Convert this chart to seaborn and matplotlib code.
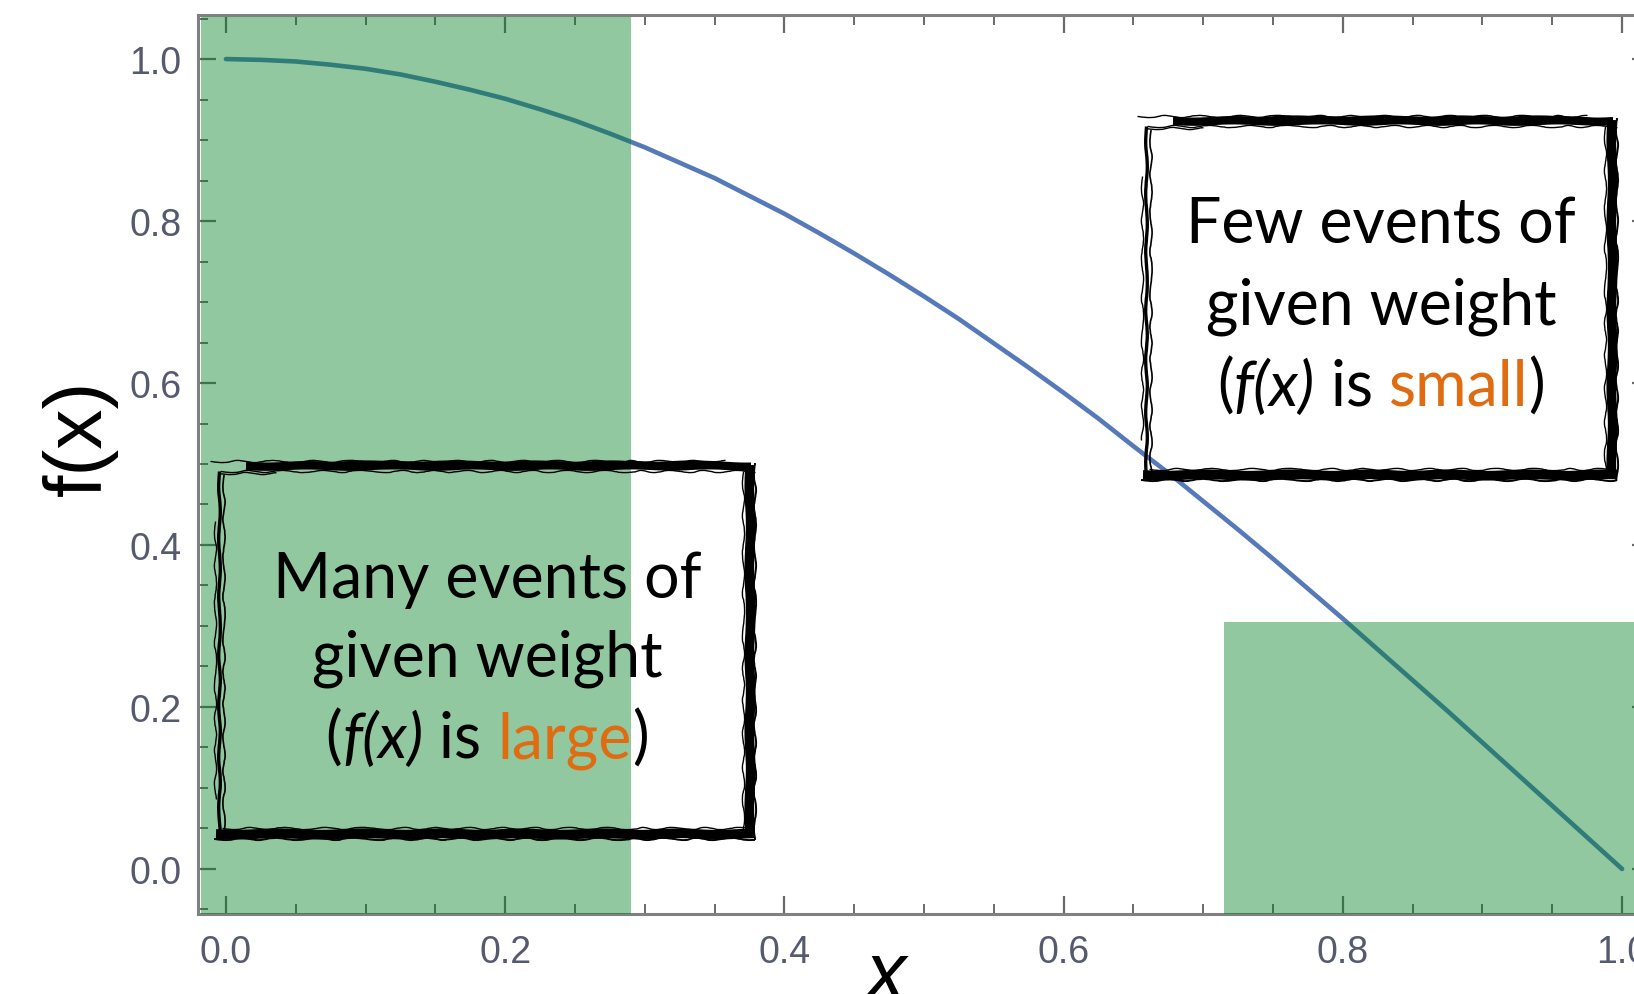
import matplotlib
matplotlib.use("Agg")
import matplotlib.pyplot as plt
import seaborn as sns
from matplotlib.lines import Line2D
from matplotlib.patches import Rectangle
from matplotlib.ticker import FixedLocator, MultipleLocator
from matplotlib.font_manager import FontProperties
from matplotlib.transforms import IdentityTransform

# ---- data -------------------------------------------------------------
x_vals = [0.000, 0.025, 0.050, 0.075, 0.100, 0.125, 0.150, 0.175, 0.200, 0.225,
          0.250, 0.275, 0.300, 0.325, 0.350, 0.375, 0.400, 0.425, 0.450, 0.475,
          0.500, 0.525, 0.550, 0.575, 0.600, 0.625, 0.650, 0.675, 0.700, 0.725,
          0.750, 0.775, 0.800, 0.825, 0.850, 0.875, 0.900, 0.925, 0.950, 0.975,
          1.000]
f_vals = [1.000, 0.999, 0.997, 0.993, 0.988, 0.981, 0.972, 0.962, 0.951, 0.938,
          0.924, 0.908, 0.891, 0.872, 0.853, 0.831, 0.809, 0.785, 0.760, 0.734,
          0.707, 0.679, 0.649, 0.619, 0.588, 0.556, 0.522, 0.489, 0.454, 0.419,
          0.383, 0.346, 0.309, 0.271, 0.233, 0.195, 0.156, 0.117, 0.078, 0.039,
          0.000]

x_ticks = [0.0, 0.2, 0.4, 0.6, 0.8, 1.0]
x_tick_labels = ["0.0", "0.2", "0.4", "0.6", "0.8", "1.0"]
y_ticks = [0.0, 0.2, 0.4, 0.6, 0.8, 1.0]
y_tick_labels = ["0.0", "0.2", "0.4", "0.6", "0.8", "1.0"]

# shaded regions: (x from, x to, y top)
high_region = (-0.0175, 0.29, 1.052)
low_region = (0.715, 1.10, 0.305)

many_lines = ["Many events of", "given weight"]
many_last = [("(", "normal", "black"), ("f(x)", "italic", "black"),
             (" is ", "normal", "black"), ("large", "normal", "#e06c12"),
             (")", "normal", "black")]
few_lines = ["Few events of", "given weight"]
few_last = [("(", "normal", "black"), ("f(x)", "italic", "black"),
            (" is ", "normal", "black"), ("small", "normal", "#e06c12"),
            (")", "normal", "black")]

# ---- style ------------------------------------------------------------
sns.set_style("ticks")
plt.rcParams["font.family"] = ["Liberation Sans", "DejaVu Sans"]

W, H = 1634, 995
fig = plt.figure(figsize=(W / 100, H / 100), dpi=100)
fig.patch.set_facecolor("white")

ax_left, ax_right = 198, 198 + 1452
ax_top, ax_bottom = 15.5, 914.5
ax = fig.add_axes([ax_left / W, 1 - ax_bottom / H,
                   (ax_right - ax_left) / W, (ax_bottom - ax_top) / H])
ax.set_facecolor("white")

sns.lineplot(x=x_vals, y=f_vals, ax=ax, color="#5679b9", linewidth=3.3,
             zorder=2, legend=False)

ax.set_xlim(-0.02, 1.02)
ax.set_ylim(-0.055, 1.055)

green = (0.0, 0.50, 0.14)
green_alpha = 0.43
ax.add_patch(Rectangle((high_region[0], -0.07), high_region[1] - high_region[0],
                       high_region[2] + 0.07, facecolor=green, alpha=green_alpha,
                       lw=0, zorder=3))
ax.add_patch(Rectangle((low_region[0], -0.07), low_region[1] - low_region[0],
                       low_region[2] + 0.07, facecolor=green, alpha=green_alpha,
                       lw=0, zorder=3))

# frame and ticks
for side in ["left", "top", "bottom", "right"]:
    ax.spines[side].set_visible(True)
    ax.spines[side].set_color("#808080")
    ax.spines[side].set_linewidth(2.2)

ax.xaxis.set_major_locator(FixedLocator(x_ticks))
ax.yaxis.set_major_locator(FixedLocator(y_ticks))
ax.set_xticklabels(x_tick_labels)
ax.set_yticklabels(y_tick_labels)
ax.xaxis.set_minor_locator(MultipleLocator(0.05))
ax.yaxis.set_minor_locator(MultipleLocator(0.05))
ax.tick_params(which="both", direction="in", top=True, right=True,
               color="#6a6a6a")
ax.tick_params(which="major", length=13, width=1.6)
ax.tick_params(which="minor", length=7, width=1.4)
ax.tick_params(axis="x", which="major", labelsize=27, labelcolor="#555a6e", pad=15)
ax.tick_params(axis="y", which="major", labelsize=27, labelcolor="#555a6e", pad=12)

# axis labels
ax.set_xlabel("x", fontsize=58, style="italic", color="black")
ax.xaxis.set_label_coords(885 / W, 1 - 999 / H, transform=fig.transFigure)
ax.xaxis.label.set_verticalalignment("baseline")
ax.xaxis.label.set_horizontalalignment("center")
ax.set_ylabel("f(x)", fontsize=58, color="black")
ax.yaxis.set_label_coords(80 / W, 1 - 438 / H, transform=fig.transFigure)
ax.yaxis.label.set_verticalalignment("center")
ax.yaxis.label.set_horizontalalignment("center")

# ---- annotation boxes -------------------------------------------------
renderer = fig.canvas.get_renderer()
box_size = 45


def font_for(style):
    return FontProperties(family="Lato", style=style, size=box_size)


def text_width(s, prop):
    w, _, _ = renderer.get_text_width_height_descent(s + "|", prop, ismath=False)
    w0, _, _ = renderer.get_text_width_height_descent("|", prop, ismath=False)
    return w - w0


def draw_pieces(pieces, cx, baseline):
    widths = [text_width(s, font_for(st)) for s, st, _ in pieces]
    x = cx - sum(widths) / 2
    for (s, st, col), w in zip(pieces, widths):
        fig.text(x / W, 1 - baseline / H, s, fontproperties=font_for(st),
                 color=col, ha="left", va="baseline", zorder=6)
        x += w


def draw_block(lines, last, cx, baselines):
    for s, b in zip(lines, baselines[:2]):
        draw_pieces([(s, "normal", "black")], cx, b)
    draw_pieces(last, cx, baselines[2])


HEAVY = (0.7, 90, 2)
SCRATCH = (1.1, 45, 3)


def stroke(xs, ys, lw, sketch=HEAVY, alpha=1.0):
    line = Line2D(xs, [H - y for y in ys], lw=lw, color="black", alpha=alpha,
                  transform=IdentityTransform(), solid_capstyle="butt", zorder=5)
    line.set_sketch_params(*sketch)
    fig.add_artist(line)


def sketch_box(l, t, r, b):
    # top edge: heavy brush stroke with loose scratches around it
    stroke([l + 30, r - 4], [t + 5, t + 5], 6.0)
    stroke([l + 90, r - 40], [t + 2, t + 2], 3.5)
    stroke([l - 6, r - 30], [t, t], 1.0, SCRATCH)
    stroke([l + 4, r], [t + 10, t + 10], 1.0, SCRATCH)
    stroke([l + 2, l + 60], [t + 12, t + 12], 1.0, SCRATCH)
    # right edge
    stroke([r - 5, r - 5], [t + 4, b - 2], 7.0)
    stroke([r - 12, r - 12], [t + 10, b - 6], 1.0, SCRATCH)
    stroke([r, r], [t + 2, b + 1], 1.4, SCRATCH)
    # bottom edge
    stroke([l, r], [b - 5, b - 5], 7.0)
    stroke([l + 6, r - 10], [b - 11, b - 11], 1.0, SCRATCH)
    stroke([l - 2, r], [b, b], 1.4, SCRATCH)
    # left edge: thin doubled line
    stroke([l + 3, l + 3], [t + 10, b - 2], 2.4, (0.8, 60, 2))
    stroke([l + 8, l + 8], [t + 14, b - 6], 1.2, SCRATCH)
    stroke([l - 1, l - 1], [t + 60, b - 40], 1.0, SCRATCH)


sketch_box(216, 462, 755, 840)
sketch_box(1143, 117, 1617, 481)

draw_block(many_lines, many_last, 487, [598, 677, 758])
draw_block(few_lines, few_last, 1381, [244, 325, 406])

fig.savefig("out.png", dpi=100, facecolor="white")
